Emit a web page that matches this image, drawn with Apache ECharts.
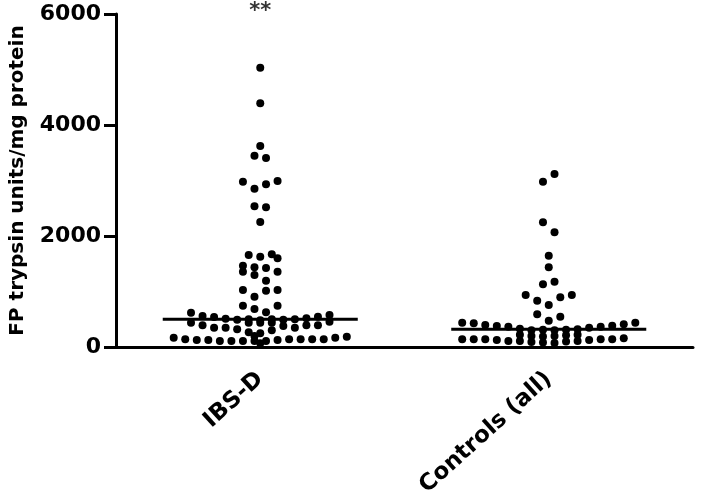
<!DOCTYPE html>
<html>
<head>
<meta charset="utf-8">
<script src="https://cdn.jsdelivr.net/npm/echarts@6/dist/echarts.min.js"></script>
<style>html,body{margin:0;padding:0;background:#fff}#c{width:708px;height:492px}</style>
</head>
<body>
<div id="c"></div>
<script>
const categories = ['IBS-D', 'Controls (all)'];
const yTicks = [0, 2000, 4000, 6000];
const yTitle = 'FP trypsin units/mg protein';
const medians = [500, 320];
const significance = ['**', ''];

// horizontal beeswarm slot (in dot half-spacings) and value for each point
const ibsdSlots = [0,0,0,-1,1,-3,-1,1,3,-1,1,0,
  -2,0,2,3,-3,-3,-1,-1,1,3,1,-3,-1,1,3,
  -3,-1,1,3,
  -12,-10,-8,-6,8,10,12,
  -4,-2,0,2,4,6,
  -12,-10,-8,-6,-4,-2,0,2,4,6,8,10,12,
  -2,0,2,-1,
  -15,-13,-11,-9,-7,-5,-3,-1,1,3,5,7,9,11,13,15,0];
const ibsdValues = [5033,4391,3622,3447,3406,2979,2853,2932,2991,2535,2517,2252,
  1658,1627,1670,1598,1465,1357,1436,1297,1424,1357,1195,1027,906,1015,1027,
  744,685,625,744,
  618,559,541,510,517,546,577,
  490,500,480,500,490,500,
  438,391,348,348,319,438,438,438,378,348,391,391,456,
  265,250,300,198,
  168,139,126,126,108,108,108,108,108,126,139,139,139,139,168,186,66];

const ctrlSlots = [1,-1,-1,1,0,0,-1,1,
  -4,-2,0,2,4,-2,0,2,
  -15,-13,-11,-9,-7,7,9,11,13,15,
  -15,-13,-11,-9,-7,7,9,11,13,
  -5,-5,-5,-3,-3,-3,-1,-1,-1,1,1,1,3,3,3,5,5,5];
const ctrlValues = [3117,2979,2247,2067,1645,1436,1130,1177,
  937,834,757,896,937,589,474,546,
  438,427,396,378,366,348,366,384,409,438,
  139,139,139,126,108,126,139,139,156,
  330,220,110,300,200,90,310,190,80,300,200,70,310,210,100,320,220,110];

const SLOT = 0.02;
const HALF = 0.338;
const FONT = 'DejaVu Sans';

function pts(center, slots, vals) {
  return vals.map((v, i) => [center + slots[i] * SLOT, v]);
}
const groups = [[ibsdSlots, ibsdValues], [ctrlSlots, ctrlValues]];

const series = [];
groups.forEach((g, gi) => {
  const c = gi + 1;
  series.push({
    type: 'scatter', xAxisIndex: 1, data: pts(c, g[0], g[1]),
    symbol: 'circle', symbolSize: 8, itemStyle: { color: '#000', opacity: 1 }, silent: true
  });
  series.push({
    type: 'line', xAxisIndex: 1, data: [[c - HALF, medians[gi]], [c + HALF, medians[gi]]],
    symbol: 'none', lineStyle: { color: '#000', width: 3 }, silent: true, z: 3
  });
  if (significance[gi]) {
    series.push({
      type: 'scatter', xAxisIndex: 1, data: [[c, yTicks[yTicks.length - 1]]], symbolSize: 0, clip: false,
      label: { show: true, formatter: significance[gi], position: 'top', distance: -8,
        color: '#000', fontSize: 21, fontWeight: 'bold', fontFamily: FONT }
    });
  }
});

const chart = echarts.init(document.getElementById('c'), null, { renderer: 'canvas' });
chart.setOption({
  animation: false,
  backgroundColor: '#fff',
  grid: { left: 116, right: 15, top: 14, bottom: 145, containLabel: false, outerBoundsMode: 'none' },
  xAxis: [{
    type: 'category', data: categories, boundaryGap: true,
    axisLine: { lineStyle: { color: '#000', width: 3 } },
    axisTick: { alignWithLabel: true, length: 12, lineStyle: { color: '#000', width: 3 } },
    axisLabel: { rotate: 42, margin: 29, color: '#000', fontSize: 23, fontWeight: 'bold', fontFamily: FONT },
    splitLine: { show: false }
  }, {
    type: 'value', min: 0.5, max: 2.5, show: false
  }],
  yAxis: {
    type: 'value', min: yTicks[0], max: yTicks[yTicks.length - 1], interval: 2000,
    name: yTitle, nameLocation: 'middle', nameGap: 88,
    nameTextStyle: { color: '#000', fontSize: 20, fontWeight: 'bold', fontFamily: FONT },
    axisLine: { show: true, lineStyle: { color: '#000', width: 3 } },
    axisTick: { show: true, length: 12, lineStyle: { color: '#000', width: 3 } },
    axisLabel: { margin: 15, color: '#000', fontSize: 22, fontWeight: 'bold', fontFamily: FONT,
      formatter: v => String(v) },
    splitLine: { show: false }
  },
  series: series
});
</script>
</body>
</html>
